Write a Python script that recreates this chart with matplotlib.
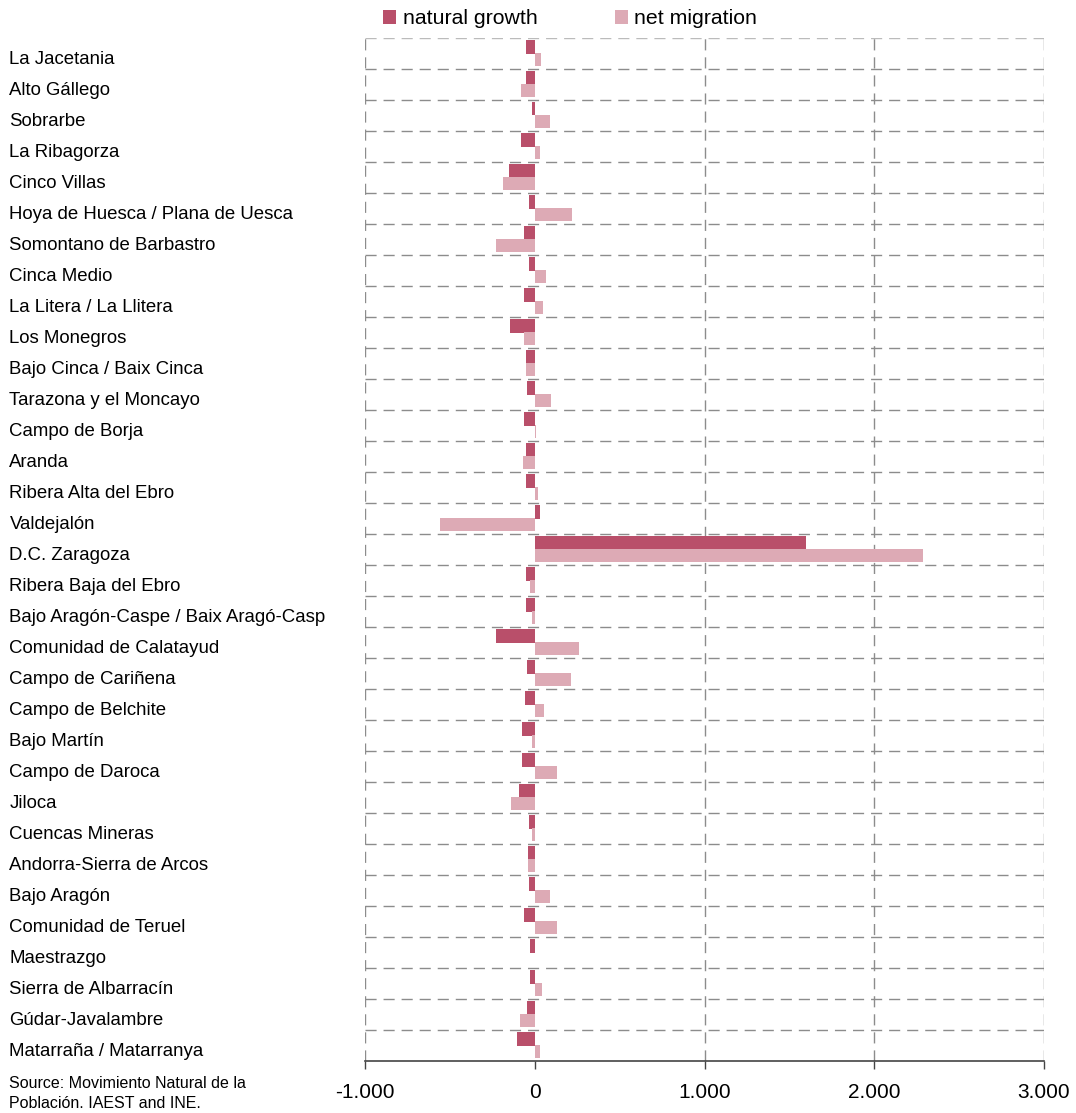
import matplotlib
matplotlib.use("Agg")
import matplotlib.pyplot as plt
import matplotlib.transforms as mtransforms
from matplotlib.ticker import FuncFormatter, FixedLocator

plt.rcParams['font.family'] = ['Liberation Sans', 'DejaVu Sans']

categories = [
    "La Jacetania", "Alto Gállego", "Sobrarbe", "La Ribagorza", "Cinco Villas",
    "Hoya de Huesca / Plana de Uesca", "Somontano de Barbastro", "Cinca Medio",
    "La Litera / La Llitera", "Los Monegros", "Bajo Cinca / Baix Cinca",
    "Tarazona y el Moncayo", "Campo de Borja", "Aranda", "Ribera Alta del Ebro",
    "Valdejalón", "D.C. Zaragoza", "Ribera Baja del Ebro",
    "Bajo Aragón-Caspe / Baix Aragó-Casp", "Comunidad de Calatayud",
    "Campo de Cariñena", "Campo de Belchite", "Bajo Martín", "Campo de Daroca",
    "Jiloca", "Cuencas Mineras", "Andorra-Sierra de Arcos", "Bajo Aragón",
    "Comunidad de Teruel", "Maestrazgo", "Sierra de Albarracín",
    "Gúdar-Javalambre", "Matarraña / Matarranya",
]

natural_growth = [
    -49, -49, -14, -79, -150,
    -32, -61, -32, -61, -144,
    -49, -43, -61, -49, -49,
    33, 1600, -49, -49, -227,
    -43, -55, -73, -73, -91,
    -32, -37, -32, -61, -26,
    -26, -43, -102,
]

net_migration = [
    39, -79, 92, 33, -185,
    217, -227, 69, 51, -61,
    -49, 98, 10, -67, 22,
    -557, 2290, -26, -14, 258,
    211, 57, -14, 134, -138,
    -14, -37, 92, 134, 3,
    45, -85, 33,
]

x_ticks = [-1000, 0, 1000, 2000, 3000]
x_grid = [-1000, 1000, 2000, 3000]

c_ng = "#B94F6A"
c_nm = "#DDAAB5"
grid_c = "#8C8C8C"

fig = plt.figure(figsize=(10.76, 11.13), dpi=100)
ax = fig.add_axes([365/1076, 1-1061/1113, (1044-365)/1076, (1061-38)/1113])

n = len(categories)
pos = list(range(n))
h = 0.43
ax.barh([p - h/2 for p in pos], natural_growth, height=h, color=c_ng,
        label="natural growth", zorder=3)
ax.barh([p + h/2 - 0.02 for p in pos], net_migration, height=h, color=c_nm,
        label="net migration", zorder=3)

ax.set_xlim(-1000, 3000)
ax.set_ylim(n - 0.5, -0.5)

# grid lines
dash = (0, (8, 5))
ax.axhline(-0.5, color="#BBBBBB", lw=1, ls=dash, zorder=1)
for i in range(1, n):
    ax.axhline(i - 0.5, color=grid_c, lw=1, ls=dash, zorder=1)
for xv in x_grid:
    ax.axvline(xv, color=grid_c, lw=1, ls=dash, zorder=1)

for s in ["top", "right", "left"]:
    ax.spines[s].set_visible(False)
ax.spines["bottom"].set_color("#444444")
ax.spines["bottom"].set_linewidth(1.2)

ax.xaxis.set_major_locator(FixedLocator(x_ticks))
ax.xaxis.set_major_formatter(FuncFormatter(lambda v, p: f"{int(v):,}".replace(",", ".")))
ax.tick_params(axis="x", length=6, width=1, color="#444444", pad=10, labelsize=15)

ax.set_yticks(pos)
ax.set_yticklabels(categories, fontsize=13.4)
ax.tick_params(axis="y", length=0, pad=256)
shift = mtransforms.ScaledTranslation(0, -4/100, fig.dpi_scale_trans)
for lab in ax.get_yticklabels():
    lab.set_horizontalalignment("left")
    lab.set_transform(lab.get_transform() + shift)

fig.legend(loc="center left", bbox_to_anchor=(383/1076, 1-19/1113), ncol=2,
           frameon=False, fontsize=15.3, handlelength=0.62, handleheight=0.62,
           handletextpad=0.3, columnspacing=3.65, borderaxespad=0, borderpad=0)

fig.text(9/1076, 1-1076/1113, "Source: Movimiento Natural de la\nPoblación. IAEST and INE.",
         fontsize=11.5, va="top", ha="left", linespacing=1.4)

fig.savefig("out.png", dpi=100)
